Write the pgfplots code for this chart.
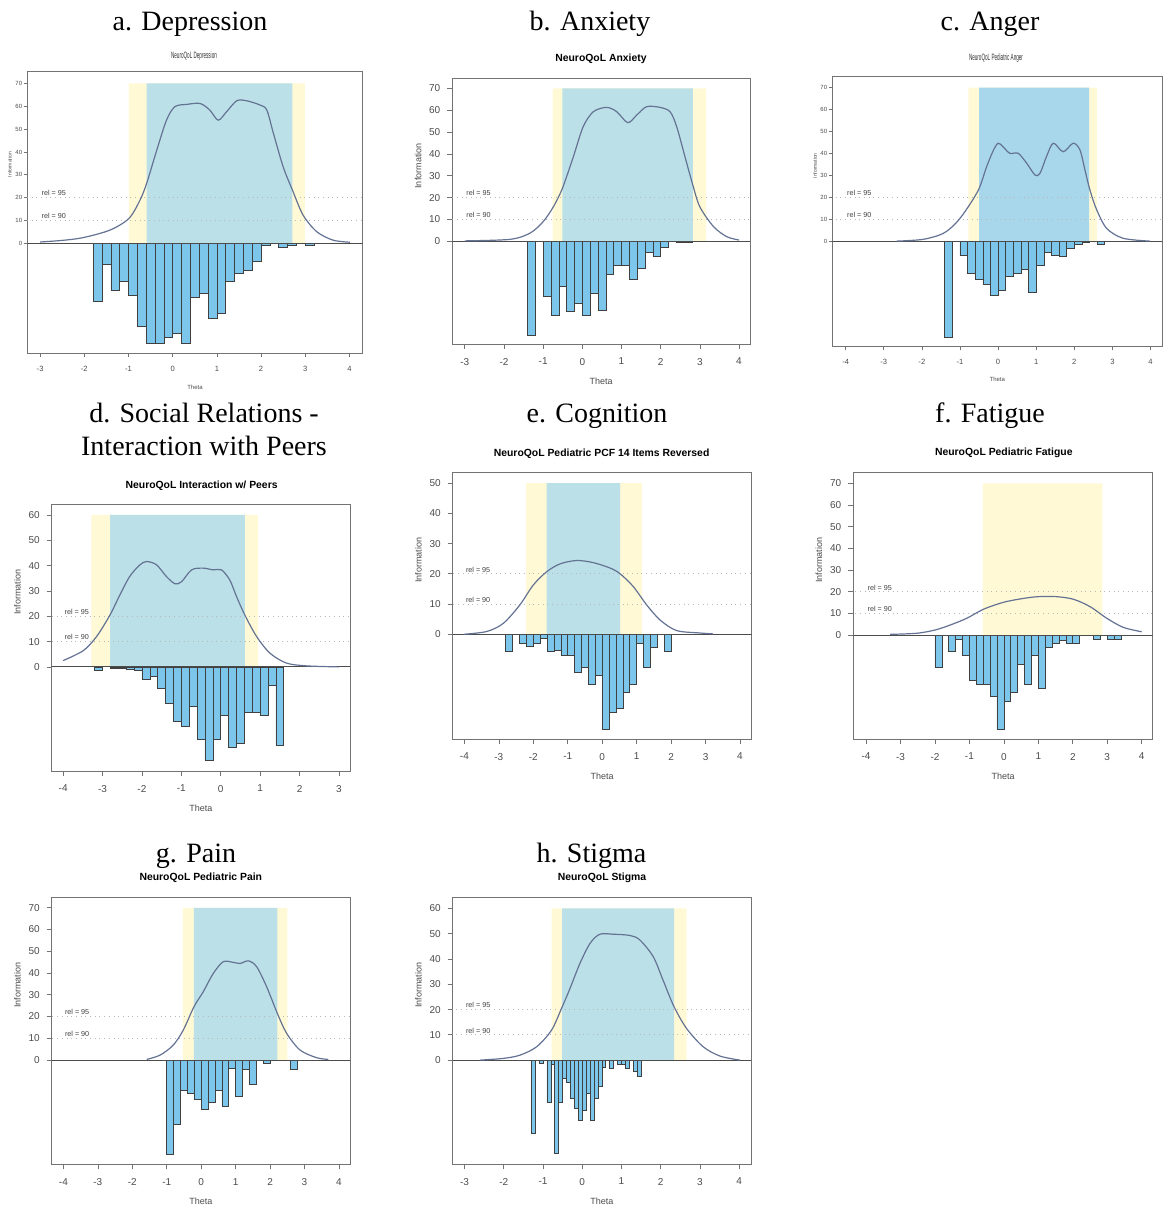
\documentclass[border=0pt]{standalone}
\usepackage{fontspec}
\setmainfont{Liberation Serif}
\newfontfamily\arial{Liberation Sans}
\usepackage{graphicx}
\usepackage{pgfplots}
\pgfplotsset{compat=1.18}
\definecolor{yelb}{RGB}{255,249,214}
\definecolor{blub}{RGB}{188,224,231}
\definecolor{blua}{RGB}{168,214,234}
\definecolor{barc}{RGB}{124,198,236}
\definecolor{curvc}{RGB}{100,115,148}
\newcommand{\bigt}{\fontsize{14}{16}\selectfont}
\newcommand{\smt}{\arial\bfseries\fontsize{5.2}{6}\selectfont}
\newcommand{\tickf}{\arial\fontsize{5}{6}\selectfont}
\newcommand{\labf}{\arial\fontsize{4.5}{5}\selectfont}
\newcommand{\relf}{\arial\fontsize{3.6}{4}\selectfont}
\pgfplotsset{
  rplot/.style={
    scale only axis, anchor=north west,
    axis line style={draw=black!55, line width=0.4pt},
    tick pos=left, tick align=outside,
    major tick length=2.5pt,
    tick style={draw=black!55, line width=0.35pt},
    tick label style={font=\tickf, text=black!70},
    /pgf/number format/assume math mode=true,
    xticklabel style={yshift=-1pt},
    xlabel={Theta}, ylabel={Information},
    xlabel style={font=\labf, text=black!70, at={(rel axis cs:0.5,-0.14)}, anchor=center},
    ylabel style={font=\labf, text=black!70, at={(rel axis cs:-0.115,0.67)}, anchor=center},
  },
  tinyplot/.style={
    yticklabel style={font=\arial\fontsize{3}{3.5}\selectfont, inner sep=0.6pt},
    xticklabel style={font=\arial\fontsize{3.8}{4}\selectfont},
    ylabel style={font=\arial\fontsize{2.5}{3}\selectfont, at={(rel axis cs:-0.052,0.67)}},
    xlabel style={font=\arial\fontsize{3}{3.5}\selectfont, at={(rel axis cs:0.5,-0.12)}},
    major tick length=1.8pt,
  },
  band/.style={fill=#1, draw=none},
  relline/.style={black!28, dotted, line width=0.35pt},
  zline/.style={black!70, line width=0.5pt},
  bars/.style={ybar, bar width=#1, bar shift=0pt, fill=barc, draw=black!75, line width=0.3pt},
  icurve/.style={curvc, line width=0.6pt, smooth, tension=0.5},
}
\newcommand{\rellabels}[1]{%
  \node[anchor=south west, font=\relf, text=black!75, inner sep=0.6pt] at (axis cs:#1,20) {rel = 95};
  \node[anchor=south west, font=\relf, text=black!75, inner sep=0.6pt] at (axis cs:#1,10) {rel = 90};
}
\begin{document}
\begin{tikzpicture}
\useasboundingbox (0,0) rectangle (588pt,-603pt);
\fill[white] (0,0) rectangle (588pt,-603pt);
% ---------- big titles
\node[anchor=base, font=\bigt] at (95pt,-15pt) {a. Depression};
\node[anchor=base, font=\bigt] at (295pt,-15pt) {b. Anxiety};
\node[anchor=base, font=\bigt] at (495pt,-15pt) {c. Anger};
\node[anchor=base, font=\bigt] at (102pt,-211pt) {d. Social Relations -};
\node[anchor=base, font=\bigt] at (102pt,-227.5pt) {Interaction with Peers};
\node[anchor=base, font=\bigt] at (298.5pt,-211pt) {e. Cognition};
\node[anchor=base, font=\bigt] at (495pt,-211pt) {f. Fatigue};
\node[anchor=base, font=\bigt] at (98pt,-431pt) {g. Pain};
\node[anchor=base, font=\bigt] at (295.75pt,-431pt) {h. Stigma};
% ---------- small titles
\node[anchor=base, font=\arial\fontsize{4.6}{5}\selectfont, text=black!80] at (97pt,-29pt) {\scalebox{0.5}[1]{NeuroQoL Depression}};
\node[anchor=base, font=\smt] at (300.5pt,-30.5pt) {NeuroQoL Anxiety};
\node[anchor=base, font=\arial\fontsize{4.6}{5}\selectfont, text=black!80] at (498pt,-30pt) {\scalebox{0.5}[1]{NeuroQoL Pediatric Anger}};
\node[anchor=base, font=\smt] at (100.8pt,-244pt) {NeuroQoL Interaction w/ Peers};
\node[anchor=base, font=\smt] at (300.8pt,-228pt) {NeuroQoL Pediatric PCF 14 Items Reversed};
\node[anchor=base, font=\smt] at (501.9pt,-227.5pt) {NeuroQoL Pediatric Fatigue};
\node[anchor=base, font=\smt] at (100.4pt,-440pt) {NeuroQoL Pediatric Pain};
\node[anchor=base, font=\smt] at (301pt,-440pt) {NeuroQoL Stigma};

% ================= a. Depression
\begin{axis}[rplot, tinyplot, at={(13.65pt,-35.85pt)}, width=167.7pt, height=140.8pt,
  xmin=-3.29, xmax=4.30, ymin=-48.1, ymax=75.1,
  xtick={-3,-2,...,4}, ytick={0,10,...,70}]
\addplot[band=yelb] coordinates {(-0.99,0) (-0.99,70) (2.99,70) (2.99,0)} \closedcycle;
\addplot[band=blub] coordinates {(-0.59,0) (-0.59,70) (2.71,70) (2.71,0)} \closedcycle;
\addplot[relline] coordinates {(-5,20) (5,20)};
\addplot[relline] coordinates {(-5,10) (5,10)};
\addplot[bars=0.2] coordinates {
(-1.7,-25.5) (-1.5,-9.1) (-1.3,-20.7) (-1.1,-16.8) (-0.9,-22.6) (-0.7,-36.5)
(-0.5,-43.7) (-0.3,-43.7) (-0.1,-41.3) (0.1,-39.4) (0.3,-43.7) (0.5,-23.4)
(0.7,-21.9) (0.9,-32.8) (1.1,-30.6) (1.3,-16.8) (1.5,-13.1) (1.7,-11.7)
(1.9,-8.0) (2.1,-0.7) (2.5,-1.7) (2.7,-0.7) (3.1,-0.7)};
\addplot[zline] coordinates {(-5,0) (5,0)};
\addplot[icurve] coordinates {
(-3.0,0.6) (-2.5,1.3) (-2.03,2.5) (-1.42,5.8) (-0.99,10.9) (-0.74,18.9) (-0.59,26.2)
(-0.36,40.8) (-0.14,53.9) (0.05,59.8) (0.32,60.8) (0.62,61.2) (0.84,58.3) (1.03,53.9)
(1.22,57.6) (1.45,62.4) (1.67,62.4) (1.98,60.5) (2.13,58.3) (2.28,48.1) (2.50,33.5)
(2.71,23.3) (2.95,12.4) (3.26,5.1) (3.63,1.4) (4.01,0.5)};
\rellabels{-3}
\end{axis}

% ================= b. Anxiety
\begin{axis}[rplot, at={(226.15pt,-39.15pt)}, width=148.85pt, height=132.85pt,
  xmin=-3.32, xmax=4.28, ymin=-47.0, ymax=74.6,
  xtick={-3,-2,...,4}, ytick={0,10,...,70}]
\addplot[band=yelb] coordinates {(-0.76,0) (-0.76,70) (3.16,70) (3.16,0)} \closedcycle;
\addplot[band=blub] coordinates {(-0.51,0) (-0.51,70) (2.82,70) (2.82,0)} \closedcycle;
\addplot[relline] coordinates {(-5,20) (5,20)};
\addplot[relline] coordinates {(-5,10) (5,10)};
\addplot[bars=0.2] coordinates {
(-1.3,-42.9) (-0.9,-25.3) (-0.7,-33.7) (-0.5,-20.8) (-0.3,-32.2) (-0.1,-28.4)
(0.1,-33.7) (0.3,-23.8) (0.5,-31.4) (0.7,-15.1) (0.9,-11.0) (1.1,-11.0)
(1.3,-17.4) (1.5,-12.5) (1.7,-5.0) (1.9,-7.0) (2.1,-2.7) (2.5,-0.6) (2.7,-0.6)};
\addplot[zline] coordinates {(-5,0) (5,0)};
\addplot[icurve] coordinates {
(-3.0,0.2) (-1.85,0.9) (-1.34,3.7) (-1.0,9.0) (-0.74,15.8) (-0.51,24.2) (-0.23,38.7)
(0.02,52.4) (0.28,59.3) (0.62,61.3) (0.88,59.3) (1.16,54.3) (1.39,57.8) (1.64,61.6)
(1.98,61.3) (2.24,59.3) (2.41,52.4) (2.62,38.7) (2.82,25.8) (3.0,15.8) (3.35,6.7)
(3.69,2.1) (4.0,0.6)};
\rellabels{-3}
\end{axis}

% ================= c. Anger
\begin{axis}[rplot, tinyplot, at={(416.15pt,-38.35pt)}, width=165pt, height=135pt,
  xmin=-4.35, xmax=4.31, ymin=-48, ymax=75,
  xtick={-4,-3,...,4}, ytick={0,10,...,70}]
\addplot[band=yelb] coordinates {(-0.78,0) (-0.78,70) (2.59,70) (2.59,0)} \closedcycle;
\addplot[band=blua] coordinates {(-0.50,0) (-0.50,70) (2.39,70) (2.39,0)} \closedcycle;
\addplot[relline] coordinates {(-5,20) (5,20)};
\addplot[relline] coordinates {(-5,10) (5,10)};
\addplot[bars=0.2] coordinates {
(-1.3,-43.5) (-0.9,-6.2) (-0.7,-14.6) (-0.5,-17.3) (-0.3,-19.6) (-0.1,-24.5)
(0.1,-22.5) (0.3,-16.1) (0.5,-14.6) (0.7,-12.8) (0.9,-23.2) (1.1,-11.1)
(1.3,-4.9) (1.5,-6.4) (1.7,-7.0) (1.9,-3.2) (2.1,-1.2) (2.3,-0.5) (2.7,-1.5)};
\addplot[zline] coordinates {(-5,0) (5,0)};
\addplot[icurve] coordinates {
(-2.66,0.1) (-1.97,0.9) (-1.44,3.6) (-1.09,8.6) (-0.78,15.8) (-0.50,24.0) (-0.30,34.0)
(-0.13,41.2) (0.0,44.7) (0.13,43.1) (0.31,40.1) (0.53,40.1) (0.75,35.6) (0.97,30.2)
(1.10,31.0) (1.27,38.6) (1.45,44.7) (1.71,40.8) (1.97,44.7) (2.15,41.6) (2.28,32.5)
(2.41,23.4) (2.59,14.3) (2.85,5.9) (3.28,1.4) (3.98,0.1)};
\rellabels{-4}
\end{axis}

% ================= d. Interaction with Peers
\begin{axis}[rplot, at={(25.85pt,-252pt)}, width=149.15pt, height=133.5pt,
  xmin=-4.29, xmax=3.28, ymin=-41.1, ymax=64.3,
  xtick={-4,-3,...,3}, ytick={0,10,...,60}]
\addplot[band=yelb] coordinates {(-3.28,0) (-3.28,60) (0.95,60) (0.95,0)} \closedcycle;
\addplot[band=blub] coordinates {(-2.81,0) (-2.81,60) (0.61,60) (0.61,0)} \closedcycle;
\addplot[relline] coordinates {(-5,20) (5,20)};
\addplot[relline] coordinates {(-5,10) (5,10)};
\addplot[bars=0.2] coordinates {
(-3.1,-1.2) (-2.7,-0.7) (-2.5,-0.7) (-2.3,-0.9) (-2.1,-1.5) (-1.9,-4.9) (-1.7,-3.8)
(-1.5,-8.4) (-1.3,-14.3) (-1.1,-21.3) (-0.9,-23.3) (-0.7,-15.7) (-0.5,-28.4)
(-0.3,-37.0) (-0.1,-28.4) (0.1,-19.1) (0.3,-31.7) (0.5,-30.1) (0.7,-18.0)
(0.9,-18.0) (1.1,-19.1) (1.3,-7.1) (1.5,-31.1)};
\addplot[zline] coordinates {(-5,0) (5,0)};
\addplot[icurve] coordinates {
(-4.0,2.5) (-3.49,6.4) (-3.15,12.0) (-2.81,20.5) (-2.56,28.4) (-2.31,35.7) (-2.05,40.3)
(-1.88,41.6) (-1.63,40.3) (-1.38,35.7) (-1.16,32.8) (-0.99,33.7) (-0.74,38.3)
(-0.45,39.0) (-0.19,38.3) (0.02,38.3) (0.23,34.3) (0.40,27.8) (0.61,20.5) (0.91,12.0)
(1.25,5.4) (1.67,1.5) (2.18,0.4) (3.0,0.0)};
\rellabels{-4}
\end{axis}

% ================= e. Cognition
\begin{axis}[rplot, at={(226.35pt,-236.15pt)}, width=149.5pt, height=133.35pt,
  xmin=-4.34, xmax=4.34, ymin=-34.7, ymax=53.6,
  xtick={-4,-3,...,4}, ytick={0,10,...,50}]
\addplot[band=yelb] coordinates {(-2.21,0) (-2.21,50) (1.15,50) (1.15,0)} \closedcycle;
\addplot[band=blub] coordinates {(-1.61,0) (-1.61,50) (0.52,50) (0.52,0)} \closedcycle;
\addplot[relline] coordinates {(-5,20) (5,20)};
\addplot[relline] coordinates {(-5,10) (5,10)};
\addplot[bars=0.2] coordinates {
(-2.7,-5.8) (-2.3,-3.0) (-2.1,-4.1) (-1.9,-3.0) (-1.7,-1.2) (-1.5,-5.5) (-1.3,-5.2)
(-1.1,-6.9) (-0.9,-6.9) (-0.7,-12.6) (-0.5,-11.1) (-0.3,-16.6) (-0.1,-13.5)
(0.1,-31.5) (0.3,-26.0) (0.5,-24.5) (0.7,-19.2) (0.9,-16.6) (1.1,-3.0)
(1.3,-11.1) (1.5,-4.3) (1.9,-5.5)};
\addplot[zline] coordinates {(-5,0) (5,0)};
\addplot[icurve] coordinates {
(-4.0,0.0) (-3.35,0.9) (-2.87,3.6) (-2.39,9.7) (-2.0,16.3) (-1.61,20.7) (-1.22,23.3)
(-0.74,24.4) (-0.26,23.7) (0.23,21.9) (0.52,20.0) (0.90,15.8) (1.29,9.7) (1.68,4.7)
(2.16,1.2) (2.84,0.4) (3.22,0.1)};
\rellabels{-4}
\end{axis}

% ================= f. Fatigue
\begin{axis}[rplot, at={(426.65pt,-236.15pt)}, width=149.7pt, height=133.35pt,
  xmin=-4.37, xmax=4.32, ymin=-48, ymax=75.1,
  xtick={-4,-3,...,4}, ytick={0,10,...,70}]
\addplot[band=yelb] coordinates {(-0.61,0) (-0.61,70) (2.86,70) (2.86,0)} \closedcycle;
\addplot[relline] coordinates {(-5,20) (5,20)};
\addplot[relline] coordinates {(-5,10) (5,10)};
\addplot[bars=0.2] coordinates {
(-1.9,-15.1) (-1.5,-7.7) (-1.3,-2.0) (-1.1,-9.2) (-0.9,-20.8) (-0.7,-22.8)
(-0.5,-22.8) (-0.3,-28.5) (-0.1,-43.5) (0.1,-30.5) (0.3,-26.5) (0.5,-13.5)
(0.7,-22.8) (0.9,-9.2) (1.1,-24.6) (1.3,-5.7) (1.5,-3.8) (1.7,-2.3) (1.9,-3.8)
(2.1,-3.8) (2.7,-2.0) (3.1,-2.0) (3.3,-2.0)};
\addplot[zline] coordinates {(-5,0) (5,0)};
\addplot[icurve] coordinates {
(-3.30,0.3) (-2.53,0.8) (-2.0,2.3) (-1.56,4.6) (-1.08,7.7) (-0.59,11.9) (-0.01,15.1)
(0.57,16.9) (1.0,17.7) (1.53,17.7) (2.02,16.5) (2.50,13.1) (2.99,7.7) (3.47,3.5)
(4.0,1.5)};
\rellabels{-4}
\end{axis}

% ================= g. Pain
\begin{axis}[rplot, at={(25.85pt,-448.65pt)}, width=149.15pt, height=133.5pt,
  xmin=-4.34, xmax=4.32, ymin=-47.9, ymax=74.8,
  xtick={-4,-3,...,4}, ytick={0,10,...,70}]
\addplot[band=yelb] coordinates {(-0.53,0) (-0.53,70) (2.50,70) (2.50,0)} \closedcycle;
\addplot[band=blub] coordinates {(-0.21,0) (-0.21,70) (2.21,70) (2.21,0)} \closedcycle;
\addplot[relline] coordinates {(-5,20) (5,20)};
\addplot[relline] coordinates {(-5,10) (5,10)};
\addplot[bars=0.2] coordinates {
(-0.9,-43.3) (-0.7,-29.6) (-0.5,-13.8) (-0.3,-15.3) (-0.1,-18.1) (0.1,-22.4)
(0.3,-19.3) (0.5,-14.1) (0.7,-21.1) (0.9,-3.8) (1.1,-16.8) (1.3,-4.3)
(1.5,-11.2) (1.9,-1.5) (2.7,-4.3)};
\addplot[zline] coordinates {(-5,0) (5,0)};
\addplot[icurve] coordinates {
(-1.58,0.3) (-1.19,2.3) (-0.81,6.9) (-0.52,13.8) (-0.21,24.5) (0.06,31.4) (0.35,39.8)
(0.64,45.2) (0.93,44.9) (1.13,44.4) (1.37,45.6) (1.61,42.9) (1.90,33.7) (2.21,21.5)
(2.48,12.3) (2.87,4.6) (3.35,1.1) (3.69,0.3)};
\rellabels{-4}
\end{axis}

% ================= h. Stigma
\begin{axis}[rplot, at={(226.35pt,-448.65pt)}, width=149.15pt, height=133.35pt,
  xmin=-3.30, xmax=4.30, ymin=-41.1, ymax=64.4,
  xtick={-3,-2,...,4}, ytick={0,10,...,60}]
\addplot[band=yelb] coordinates {(-0.78,0) (-0.78,60) (2.66,60) (2.66,0)} \closedcycle;
\addplot[band=blub] coordinates {(-0.51,0) (-0.51,60) (2.34,60) (2.34,0)} \closedcycle;
\addplot[relline] coordinates {(-5,20) (5,20)};
\addplot[relline] coordinates {(-5,10) (5,10)};
\addplot[bars=0.1] coordinates {
(-1.25,-28.8) (-1.05,-1.3) (-0.85,-16.7) (-0.75,-1.6) (-0.65,-36.9) (-0.55,-16.7)
(-0.45,-7.2) (-0.35,-8.6) (-0.25,-15.2) (-0.15,-19.1) (-0.05,-23.7) (0.05,-20.0)
(0.15,-13.2) (0.25,-23.7) (0.35,-15.2) (0.45,-10.3) (0.55,-2.9) (0.75,-3.3)
(0.95,-1.6) (1.05,-1.6) (1.15,-3.3) (1.35,-4.6) (1.45,-6.3)};
\addplot[zline] coordinates {(-5,0) (5,0)};
\addplot[icurve] coordinates {
(-2.60,0.0) (-2.0,0.7) (-1.58,2.0) (-1.16,5.3) (-0.78,11.9) (-0.51,21.1) (-0.31,28.4)
(-0.06,38.2) (0.20,46.2) (0.45,49.8) (0.79,49.8) (1.22,49.3) (1.47,47.5) (1.81,40.9)
(2.06,31.6) (2.34,21.1) (2.66,12.5) (3.08,5.3) (3.51,1.6) (4.02,0.0)};
\rellabels{-3}
\end{axis}
\end{tikzpicture}
\end{document}
